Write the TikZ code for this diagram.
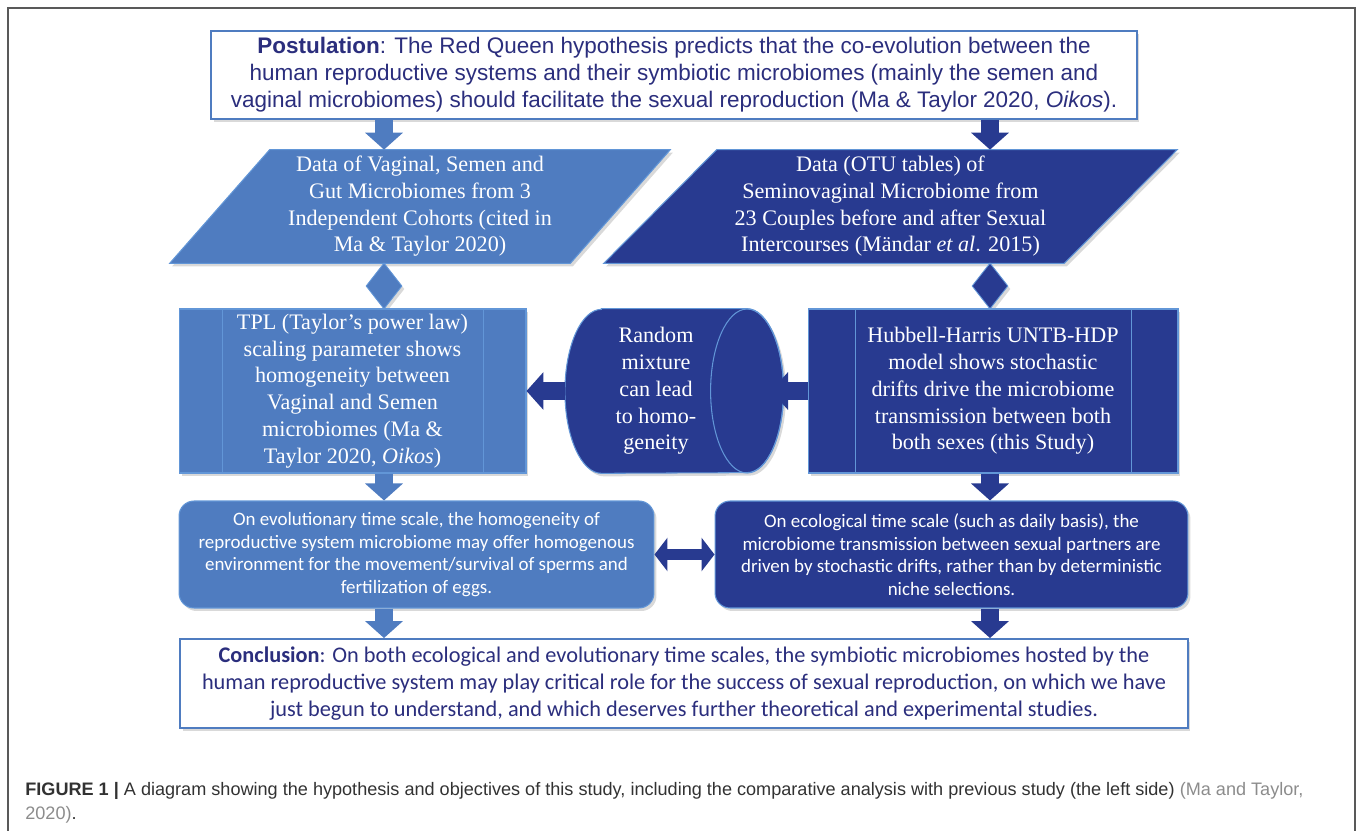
\documentclass[tikz,border=0pt]{standalone}
\usepackage{fontspec}
\setmainfont{Liberation Serif}
\newfontfamily\arialfont{Liberation Sans}
\newfontfamily\calibrifont{Carlito}
\usepackage{tikz}
\usetikzlibrary{arrows.meta,shapes.geometric,shadows,calc,backgrounds}
\definecolor{midblue}{RGB}{79,124,192}
\definecolor{deepblue}{RGB}{40,58,144}
\definecolor{rimblue}{RGB}{98,150,215}
\definecolor{inkblue}{RGB}{43,46,125}
\definecolor{capgray}{RGB}{50,50,50}
\definecolor{citegray}{RGB}{140,140,140}

\tikzset{
  boxshadow/.style={drop shadow={shadow xshift=0.05cm,shadow yshift=-0.06cm,opacity=0.3}},
  postbox/.style={draw=midblue,line width=1.1pt,fill=white,boxshadow,text=inkblue,align=center,inner sep=0pt},
  serifbox/.style={text=white,align=center,inner sep=0pt,font=\fontsize{12.6}{15.2}\selectfont},
  procbox/.style={serifbox,draw=rimblue,line width=0.6pt,boxshadow},
  roundbox/.style={draw=rimblue,line width=0.6pt,rounded corners=0.3cm,boxshadow,text=white,align=center,inner sep=0pt,font=\calibrifont\fontsize{10.8}{12.9}\selectfont},
  joint/.style={diamond,draw=rimblue,line width=0.5pt,inner sep=0pt,minimum width=0.72cm,minimum height=0.92cm,boxshadow},
  fatarrow/.style={line width=0.36cm,-{Triangle[length=0.34cm,width=0.74cm]}},
  twinarrow/.style={line width=0.22cm,{Triangle[length=0.26cm,width=0.66cm]}-{Triangle[length=0.26cm,width=0.66cm]}}
}

\begin{document}
\begin{tikzpicture}[x=0.02cm,y=-0.02cm]
\useasboundingbox (0,0) rectangle (1358,831);
\draw[gray!70!black,line width=0.7pt] (8,831) -- (8,8) -- (1355,8) -- (1355,831);

\node[postbox,minimum width=18.52cm,minimum height=1.76cm,font=\arialfont\fontsize{12.8}{15.4}\selectfont] (post) at (674,75)
  {\textbf{Postulation}: The Red Queen hypothesis predicts that the co-evolution between the\\
   human reproductive systems and their symbiotic microbiomes (mainly the semen and\\
   vaginal microbiomes) should facilitate the sexual reproduction (Ma \& Taylor 2020, \textit{Oikos}).};

\node[serifbox,minimum width=10cm,minimum height=2.26cm] (dataL) at (420,206.5)
  {Data of Vaginal, Semen and\\ Gut Microbiomes from 3\\ Independent Cohorts (cited in\\ Ma \& Taylor 2020)};
\node[serifbox,minimum width=11.46cm,minimum height=2.26cm] (dataR) at (890.5,206.5)
  {Data (OTU tables) of\\ Seminovaginal Microbiome from\\ 23 Couples before and after Sexual\\ Intercourses (Mändar \textit{et al}. 2015)};

\node[joint,fill=midblue] (jointL) at (384,286) {};
\node[joint,fill=deepblue] (jointR) at (990,286) {};

\node[procbox,fill=midblue,minimum width=6.94cm,minimum height=3.28cm] (tpl) at (352.5,391)
  {TPL (Taylor's power law)\\ scaling parameter shows\\ homogeneity between\\ Vaginal and Semen\\ microbiomes (Ma \&\\ Taylor 2020, \textit{Oikos})};
\node[serifbox,minimum width=3.63cm,minimum height=3.28cm] (cyl) at (656,391)
  {Random\\ mixture\\ can lead\\ to homo-\\ geneity};
\node[procbox,fill=deepblue,minimum width=7.4cm,minimum height=3.28cm] (hub) at (993,391)
  {Hubbell-Harris UNTB-HDP\\ model shows stochastic\\ drifts drive the microbiome\\ transmission between both\\ both sexes (this Study)};

\node[roundbox,fill=midblue,minimum width=9.5cm,minimum height=2.14cm] (evo) at (416.5,554.5)
  {On evolutionary time scale, the homogeneity of\\ reproductive system microbiome may offer homogenous\\ environment for the movement/survival of sperms and\\ fertilization of eggs.};
\node[roundbox,fill=deepblue,minimum width=9.46cm,minimum height=2.14cm] (eco) at (951.5,554.5)
  {On ecological time scale (such as daily basis), the\\ microbiome transmission between sexual partners are\\ driven by stochastic drifts, rather than by deterministic\\ niche selections.};

\node[postbox,minimum width=20.16cm,minimum height=1.78cm,font=\calibrifont\fontsize{12.7}{15.6}\selectfont] (concl) at (684,683.5)
  {\textbf{Conclusion}: On both ecological and evolutionary time scales, the symbiotic microbiomes hosted by the\\
   human reproductive system may play critical role for the success of sexual reproduction, on which we have\\
   just begun to understand, and which deserves further theoretical and experimental studies.};

\node[anchor=west,align=left,inner sep=0pt,text=capgray,font=\arialfont\fontsize{10.3}{13.7}\selectfont] (caption) at (25,803)
  {\textbf{FIGURE 1 |} A diagram showing the hypothesis and objectives of this study, including the comparative analysis with previous study (the left side) \textcolor{citegray}{(Ma and Taylor,}\\
   \textcolor{citegray}{2020)}.};

\draw[rimblue,line width=0.6pt] ([xshift=0.88cm]tpl.north west) -- ([xshift=0.88cm]tpl.south west);
\draw[rimblue,line width=0.6pt] ([xshift=-0.86cm]tpl.north east) -- ([xshift=-0.86cm]tpl.south east);
\draw[rimblue,line width=0.6pt] ([xshift=0.96cm]hub.north west) -- ([xshift=0.96cm]hub.south west);
\draw[rimblue,line width=0.6pt] ([xshift=-0.94cm]hub.north east) -- ([xshift=-0.94cm]hub.south east);

\begin{scope}[on background layer]
\filldraw[fill=midblue,draw=rimblue,line width=0.6pt,boxshadow] ([xshift=2cm]dataL.north west) -- (dataL.north east) -- ([xshift=-2cm]dataL.south east) -- (dataL.south west) -- cycle;
\filldraw[fill=deepblue,draw=rimblue,line width=0.6pt,boxshadow] ([xshift=2.26cm]dataR.north west) -- (dataR.north east) -- ([xshift=-2.26cm]dataR.south east) -- (dataR.south west) -- cycle;
\filldraw[fill=deepblue,draw=rimblue,line width=0.6pt,boxshadow] ([xshift=0.73cm]cyl.north west) -- (cyl.north east)
  arc[start angle=90,end angle=-90,x radius=0.73cm,y radius=1.64cm] -- ([xshift=0.73cm]cyl.south west)
  arc[start angle=270,end angle=90,x radius=0.73cm,y radius=1.64cm] -- cycle;
\draw[rimblue,line width=0.6pt] (cyl.east) ellipse[x radius=0.73cm,y radius=1.64cm];
\end{scope}

\draw[fatarrow,midblue] (jointL |- post.south) -- (jointL |- dataL.north);
\draw[fatarrow,deepblue] (jointR |- post.south) -- (jointR |- dataR.north);
\draw[fatarrow,deepblue] (cyl.west) -- (tpl.east);
\draw[fatarrow,deepblue] (hub.west) -- ($(cyl.east)+(24,0)$);
\draw[fatarrow,midblue] (jointL |- tpl.south) -- (jointL |- evo.north);
\draw[fatarrow,deepblue] (jointR |- hub.south) -- (jointR |- eco.north);
\draw[twinarrow,deepblue] (evo.east) -- (eco.west);
\draw[fatarrow,midblue] (jointL |- evo.south) -- (jointL |- concl.north);
\draw[fatarrow,deepblue] (jointR |- eco.south) -- (jointR |- concl.north);
\end{tikzpicture}
\end{document}
